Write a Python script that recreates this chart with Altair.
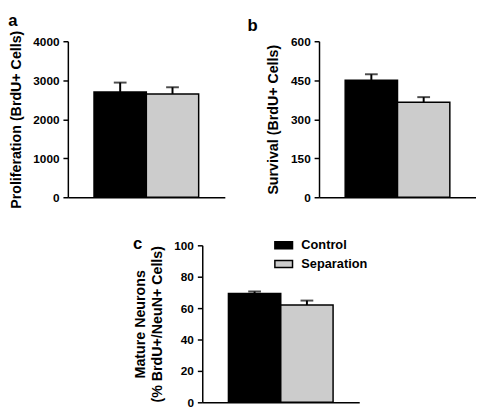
import altair as alt
import pandas as pd

groups = ["Control", "Separation"]
colors = ["#000000", "#cccccc"]

# panel a: proliferation
prolif_mean = [2700, 2650]
prolif_err = [240, 170]
prolif_ticks = [0, 1000, 2000, 3000, 4000]

# panel b: survival
surv_mean = [450, 365]
surv_err = [23, 20]
surv_ticks = [0, 150, 300, 450, 600]

# panel c: mature neurons
mature_mean = [69.3, 62]
mature_err = [1.3, 2.8]
mature_ticks = [0, 20, 40, 60, 80, 100]

FONT = "Liberation Sans"


def panel(means, errs, ticks, ytitle, letter, w, h, legend=None, title_dx=0, title_dy=0):
    df = pd.DataFrame({
        "group": groups,
        "mean": means,
        "upper": [m + e for m, e in zip(means, errs)],
    })
    base = alt.Chart(df).encode(
        x=alt.X("group:N", sort=groups,
                scale=alt.Scale(paddingInner=0, paddingOuter=0.5),
                axis=alt.Axis(labels=False, ticks=False, title=None, domain=True))
    )
    bars = base.mark_bar(stroke="black", strokeWidth=1.5).encode(
        y=alt.Y("mean:Q", scale=alt.Scale(domain=[ticks[0], ticks[-1]]),
                axis=alt.Axis(values=ticks, tickCount=len(ticks), title=ytitle,
                              format="d", labelOverlap=False)),
        color=alt.Color("group:N", sort=groups,
                        scale=alt.Scale(domain=groups, range=colors),
                        legend=legend),
    )
    rule = base.mark_rule(color="black", strokeWidth=2).encode(
        y="mean:Q", y2="upper:Q")
    cap = base.mark_tick(color="black", size=13, thickness=2).encode(y="upper:Q")
    return alt.layer(bars, rule, cap).properties(
        width=w, height=h,
        title=alt.TitleParams(text=letter, anchor="start", frame="bounds",
                              fontSize=17, fontWeight="bold", font=FONT,
                              color="black", dx=title_dx, dy=title_dy, offset=0),
    )


leg = alt.Legend(title=None, orient="none", legendX=73, legendY=-10,
                 symbolType="M-1,-0.4H1V0.4H-1Z", symbolSize=324,
                 symbolStrokeColor="black", symbolStrokeWidth=1.5,
                 symbolOpacity=1,
                 labelFont=FONT, labelFontSize=13, labelFontWeight="bold",
                 labelColor="black", labelOffset=8, rowPadding=2, padding=0)

a = panel(prolif_mean, prolif_err, prolif_ticks, "Proliferation (BrdU+ Cells)", "a", 160, 159)
b = panel(surv_mean, surv_err, surv_ticks, "Survival (BrdU+ Cells)", "b", 160, 159, title_dx=-19)
c = panel(mature_mean, mature_err, mature_ticks,
          ["Mature Neurons", "(% BrdU+/NeuN+ Cells)"], "c", 160, 160, legend=leg,
          title_dy=18)

spacer = alt.Chart(pd.DataFrame({"v": [0]})).mark_point(opacity=0).encode(
    x=alt.value(0), y=alt.value(0)).properties(width=66, height=1)

top = alt.hconcat(a, b, spacing=22).resolve_scale(color="independent")
bottom = alt.hconcat(spacer, c, spacing=0).resolve_scale(color="independent")
chart = alt.vconcat(top, bottom, spacing=27).resolve_scale(color="independent").configure(
    padding=0
).configure_view(stroke=None).configure_axis(
    domainColor="black", domainWidth=1.5, tickColor="black", tickWidth=1.5,
    tickSize=5, labelFont=FONT, labelFontSize=12, labelFontWeight="bold",
    labelColor="black", labelPadding=4, labelBound=False,
    titleFont=FONT, titleFontSize=14.5,
    titleFontWeight="bold", titleColor="black", titlePadding=10, grid=False,
)

chart.save("out.html", embed_options={"renderer": "svg", "actions": False})
